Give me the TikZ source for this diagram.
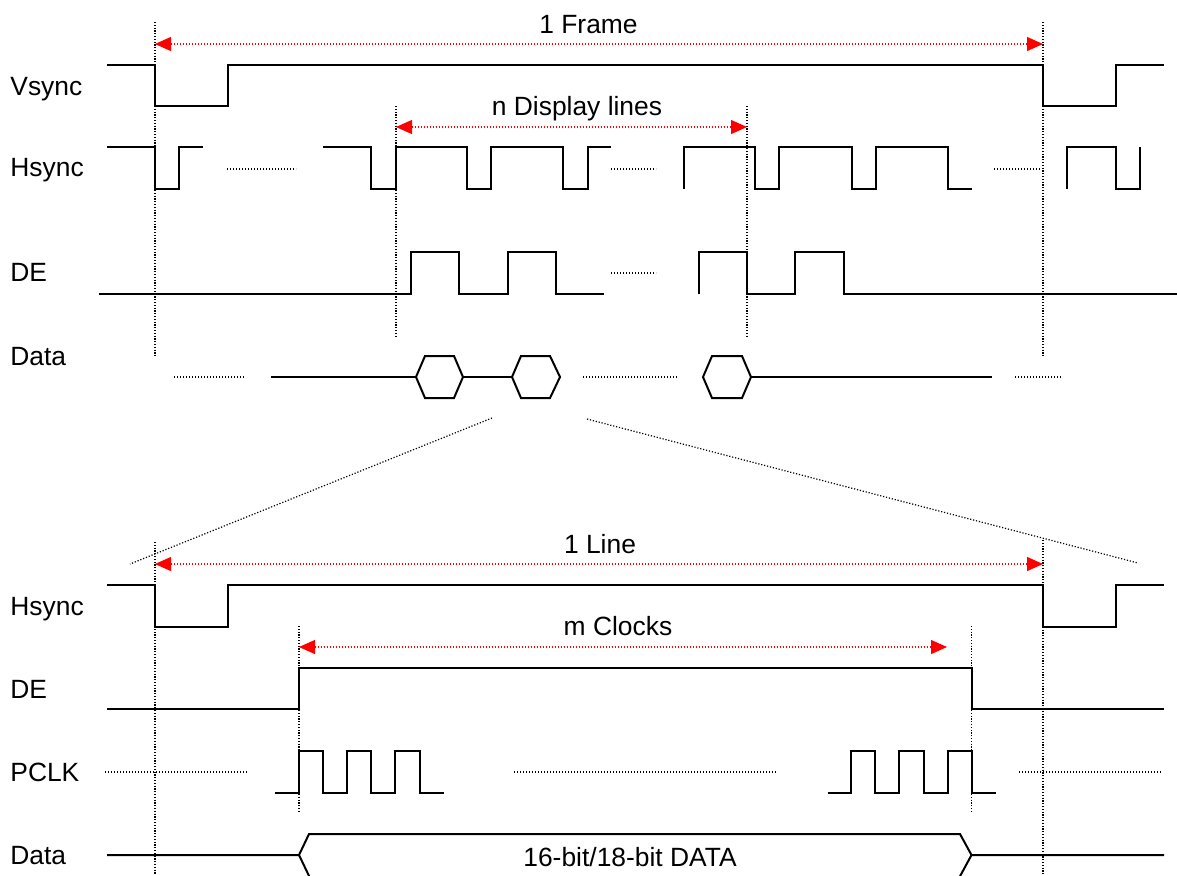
\documentclass[tikz,border=0pt]{standalone}
\usepackage{fontspec}
\setmainfont{Liberation Sans}
\usetikzlibrary{arrows.meta}
\definecolor{tdred}{RGB}{255,0,0}

\begin{document}
\begin{tikzpicture}[x=0.5pt,y=-0.5pt,font=\fontsize{13.2}{16}\selectfont,>={Triangle[length=8pt,width=7pt]},
    sig/.style={line width=1pt,line join=miter},
    gap/.style={line width=0.6pt,dash pattern=on 0.6pt off 0.9pt},
    vline/.style={line width=0.65pt,dash pattern=on 0.6pt off 0.8pt},
    span/.style={<->,tdred,line width=0.6pt,dash pattern=on 0.6pt off 0.9pt},
    sigl/.style={anchor=base west,inner sep=0pt}]
    \clip (0,0) rectangle (1177,875);
    % signal names
    \node[sigl] (vs) at (10,95) {Vsync};
    \node[sigl] (hs) at (10,176.7) {Hsync};
    \node[sigl] (de) at (10,281.7) {DE};
    \node[sigl] (dat) at (10,365.7) {Data};
    \node[sigl] (hsb) at (10,615) {Hsync};
    \node[sigl] (deb) at (10,698.5) {DE};
    \node[sigl] (pclk) at (10,781.7) {PCLK};
    \node[sigl] (datb) at (10,864) {Data};
    % frame view
    \draw[vline] (155,22)--(155,356);
    \draw[vline] (1043,22)--(1043,356);
    \draw[vline] (396,106)--(396,336);
    \draw[vline] (747,106)--(747,336);
    \coordinate (fra) at (155,44);
    \coordinate (frb) at (1043,44);
    \coordinate (nla) at (396,127);
    \coordinate (nlb) at (747,127);
    \draw[span] (fra)--(frb);
    \draw[span] (nla)--(nlb);
    \node[anchor=base,inner sep=0pt] (frame) at (588.5,33.3) {1 Frame};
    \node[anchor=base,inner sep=0pt] (nlines) at (577,115.7) {n Display lines};
    \draw[sig] (107,65)--(155,65)--(155,106)--(228,106)--(228,65)--(1043,65)--(1043,106)--(1116,106)--(1116,65)--(1164,65);
    \draw[sig] (107,147)--(155,147)--(155,189)--(179,189)--(179,147)--(203,147);
    \draw[sig] (323,147)--(371,147)--(371,189)--(396,189)--(396,147)--(467,147)--(467,189)--(491,189)--(491,147)
      --(563,147)--(563,189)--(588,189)--(588,147)--(611,147);
    \draw[sig] (684,189)--(684,147)--(755,147)--(755,189)--(779,189)--(779,147)--(852,147)--(852,189)--(876,189)
      --(876,147)--(948,147)--(948,189)--(972,189);
    \draw[sig] (1067,189)--(1067,147)--(1116,147)--(1116,189)--(1140,189)--(1140,147);
    \draw[gap] (227,169)--(296,169) (611,169)--(656,169) (994,169)--(1041,169);
    \draw[sig] (99,294)--(411,294)--(411,252)--(459,252)--(459,294)--(508,294)--(508,252)--(556,252)--(556,294)--(604,294);
    \draw[sig] (699,294)--(699,252)--(747,252)--(747,294)--(795,294)--(795,252)--(844,252)--(844,294)--(1177,294);
    \draw[gap] (611,273)--(656,273);
    \draw[sig] (271,377)--(416,377) (463,377)--(512,377) (751,377)--(992,377);
    \draw[sig] (416,377)--(425,356)--(454,356)--(463,377)--(454,398)--(425,398)--cycle;
    \draw[sig] (512,377)--(521,356)--(550,356)--(560,377)--(550,398)--(521,398)--cycle;
    \draw[sig] (703,377)--(712,356)--(742,356)--(751,377)--(742,398)--(712,398)--cycle;
    \draw[gap] (174,377)--(245,377) (583,377)--(677,377) (1015,377)--(1061,377);
    % zoom into one line
    \draw[gap] (492,418)--(130,564);
    \draw[gap] (587,419)--(1138,563);
    \draw[vline] (155,542)--(155,875);
    \draw[vline] (1043,540)--(1043,875);
    \draw[vline] (299,626)--(299,812);
    \draw[vline] (971.5,626)--(971.5,812);
    \coordinate (lna) at (155,564);
    \coordinate (lnb) at (1043,564);
    \coordinate (mca) at (299,647);
    \coordinate (mcb) at (947,647);
    \draw[span] (lna)--(lnb);
    \draw[span] (mca)--(mcb);
    \node[anchor=base,inner sep=0pt] (line) at (600,553.3) {1 Line};
    \node[anchor=base,inner sep=0pt] (mclk) at (618,635.7) {m Clocks};
    \draw[sig] (107,585)--(155,585)--(155,627)--(228,627)--(228,585)--(1043,585)--(1043,627)--(1116,627)--(1116,585)--(1164,585);
    \draw[sig] (107,709)--(299,709)--(299,668)--(971.5,668)--(971.5,709)--(1164,709);
    \draw[sig] (275,793)--(299,793)--(299,751)--(323,751)--(323,793)--(347,793)--(347,751)--(371,751)--(371,793)
      --(395,793)--(395,751)--(420,751)--(420,793)--(444,793);
    \draw[sig] (827.5,793)--(851,793)--(851,751)--(875,751)--(875,793)--(899,793)--(899,751)--(924,751)--(924,793)
      --(947.5,793)--(947.5,751)--(971.5,751)--(971.5,793)--(996,793);
    \draw[gap] (105,772)--(248,772) (514,772)--(776,772) (1019,772)--(1161,772);
    \draw[sig] (107,855)--(299,855)--(309,834)--(960,834)--(971.5,855)--(1164,855);
    \draw[sig] (299,855)--(310.5,879)--(958.5,879)--(971.5,855);
    \node[anchor=base,inner sep=0pt] (bus) at (630,866.7) {16-bit/18-bit DATA};
  \end{tikzpicture}
\end{document}
